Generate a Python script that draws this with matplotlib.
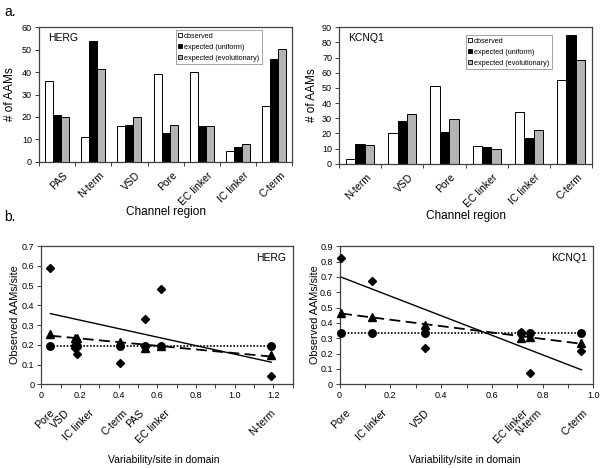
import matplotlib
matplotlib.use('Agg')
import matplotlib.pyplot as plt
import numpy as np
from matplotlib.patches import Patch
from matplotlib.transforms import blended_transform_factory, ScaledTranslation

plt.rcParams['font.family'] = ['Liberation Sans', 'DejaVu Sans']

# ---------------- data ----------------
herg_regions = ['PAS', 'N-term', 'VSD', 'Pore', 'EC linker', 'IC linker', 'C-term']
herg_observed = [36.0, 11.1, 15.9, 39.1, 40.0, 4.9, 24.9]
herg_uniform = [20.9, 54.0, 16.4, 12.7, 15.9, 6.8, 45.6]
herg_evol = [20.0, 41.4, 19.8, 16.5, 15.8, 8.1, 50.1]

kcnq1_regions = ['N-term', 'VSD', 'Pore', 'EC linker', 'IC linker', 'C-term']
kcnq1_observed = [3.1, 20.1, 51.0, 11.4, 34.1, 54.9]
kcnq1_uniform = [13.1, 28.4, 21.2, 10.9, 16.8, 84.5]
kcnq1_evol = [12.5, 32.8, 29.3, 9.6, 22.3, 68.3]

legend_labels = ['observed', 'expected (uniform)', 'expected (evolutionary)']

herg_domains = ['Pore', 'VSD', 'IC linker', 'C-term', 'PAS', 'EC linker', 'N-term']
herg_variability = [0.047, 0.175, 0.183, 0.404, 0.535, 0.620, 1.188]
herg_obs_site = [0.589, 0.186, 0.154, 0.110, 0.330, 0.484, 0.044]
herg_uni_site = [0.193, 0.193, 0.193, 0.193, 0.193, 0.193, 0.193]
herg_evo_site = [0.254, 0.236, 0.232, 0.215, 0.185, 0.192, 0.147]
herg_label_x = [0.079, 0.156, 0.284, 0.455, 0.54, 0.676, 1.222]

kcnq1_domains = ['Pore', 'IC linker', 'VSD', 'EC linker', 'N-term', 'C-term']
kcnq1_variability = [0.006, 0.127, 0.337, 0.716, 0.751, 0.953]
kcnq1_obs_site = [0.820, 0.676, 0.238, 0.340, 0.075, 0.219]
kcnq1_uni_site = [0.335, 0.335, 0.335, 0.335, 0.335, 0.335]
kcnq1_evo_site = [0.466, 0.438, 0.385, 0.300, 0.310, 0.272]
kcnq1_label_x = [0.049, 0.193, 0.364, 0.751, 0.803, 0.987]

# ---------------- figure ----------------
fig = plt.figure(figsize=(6, 4.68), dpi=100)
ax1 = fig.add_axes([0.065, 0.654, 0.422, 0.288])
ax2 = fig.add_axes([0.565, 0.650, 0.422, 0.292])
ax3 = fig.add_axes([0.069, 0.179, 0.419, 0.295])
ax4 = fig.add_axes([0.566, 0.179, 0.423, 0.295])

SPINE = '#404040'
GRAY = '#b4b4b4'
TICK_FS = 6.5


def style_spines(ax):
    for s in ax.spines.values():
        s.set_color(SPINE)
        s.set_linewidth(0.9)


def bar_panel(ax, regions, obs, uni, evo, ymax, ystep, title, leg_anchor):
    x = np.arange(len(regions))
    w = 0.222
    ax.bar(x - w, obs, w, color='white', edgecolor='black', linewidth=0.7)
    ax.bar(x, uni, w, color='black', edgecolor='black', linewidth=0.7)
    ax.bar(x + w, evo, w, color=GRAY, edgecolor='black', linewidth=0.7)
    ax.set_xlim(-0.5, len(regions) - 0.5)
    ax.set_ylim(0, ymax)
    ax.set_yticks(np.arange(0, ymax + 1, ystep))
    ax.set_xticks(np.arange(-0.5, len(regions), 1.0))
    ax.set_xticklabels([])
    ax.tick_params(axis='x', length=3, color=SPINE, width=0.7)
    ax.tick_params(axis='y', length=3, color=SPINE, width=0.7, labelsize=TICK_FS, pad=2)
    tr = blended_transform_factory(ax.transData, ax.transAxes) + \
        ScaledTranslation(13 / 100, 0, fig.dpi_scale_trans)
    for xi, name in zip(x, regions):
        ax.text(xi, -0.06, name, transform=tr, rotation=45, ha='right', va='top',
                fontsize=7.5)
    style_spines(ax)
    ax.text(0.035, 0.955, title, transform=ax.transAxes, ha='left', va='top', fontsize=7.5)
    handles = [Patch(facecolor='white', edgecolor='black', linewidth=0.6),
               Patch(facecolor='black', edgecolor='black', linewidth=0.6),
               Patch(facecolor=GRAY, edgecolor='black', linewidth=0.6)]
    leg = ax.legend(handles, legend_labels, loc='upper left', bbox_to_anchor=leg_anchor,
                    fontsize=5.2, handlelength=0.55, handleheight=0.55, handletextpad=0.25,
                    labelspacing=0.55, borderpad=0.35, borderaxespad=0, fancybox=False,
                    framealpha=1, edgecolor='#909090')
    leg.get_frame().set_linewidth(0.6)


bar_panel(ax1, herg_regions, herg_observed, herg_uniform, herg_evol, 60, 10, 'HERG', (0.54, 0.978))
bar_panel(ax2, kcnq1_regions, kcnq1_observed, kcnq1_uniform, kcnq1_evol, 90, 10, 'KCNQ1', (0.50, 0.94))


def fit_line(ax, x, y, **kw):
    p = np.polyfit(x, y, 1)
    xs = np.array([min(x), max(x)])
    ax.plot(xs, np.polyval(p, xs), color='black', **kw)


def scatter_panel(ax, domains, xv, obs, uni, evo, xmax, ymax, title, label_x):
    fit_line(ax, xv, obs, lw=1.0, ls='-')
    fit_line(ax, xv, evo, lw=1.3, ls=(0, (6, 3)))
    fit_line(ax, xv, uni, lw=1.2, ls=(0, (1, 1)))
    ax.plot(xv, obs, 'D', color='black', ms=4.0, clip_on=False, zorder=3)
    ax.plot(xv, uni, 'o', color='black', ms=5.4, clip_on=False, zorder=4)
    ax.plot(xv, evo, '^', color='black', ms=5.2, clip_on=False, zorder=5)
    ax.set_xlim(0, xmax)
    ax.set_ylim(0, ymax)
    ax.set_yticks(np.round(np.arange(0, ymax + 0.01, 0.1), 1))
    ax.set_yticklabels(['0'] + ['%.1f' % v for v in np.arange(0.1, ymax + 0.01, 0.1)])
    xt = np.round(np.arange(0, xmax + 0.001, 0.2), 1)
    ax.set_xticks(xt)
    ax.set_xticklabels(['0'] + ['%.1f' % v for v in xt[1:]])
    ax.set_xticks(np.round(np.arange(0, xmax + 0.001, 0.1), 1), minor=True)
    ax.tick_params(axis='both', which='both', length=3, color=SPINE, width=0.7,
                   labelsize=TICK_FS, pad=2)
    style_spines(ax)
    ax.text(0.975, 0.95, title, transform=ax.transAxes, ha='right', va='top', fontsize=7.5)
    tr = blended_transform_factory(ax.transData, ax.transAxes)
    for name, lx in zip(domains, label_x):
        ax.text(lx, -0.17, name, transform=tr, rotation=45, ha='right', va='top',
                fontsize=7.6)


scatter_panel(ax3, herg_domains, herg_variability, herg_obs_site, herg_uni_site,
              herg_evo_site, 1.3, 0.7, 'HERG', herg_label_x)
scatter_panel(ax4, kcnq1_domains, kcnq1_variability, kcnq1_obs_site, kcnq1_uni_site,
              kcnq1_evo_site, 1.0, 0.9, 'KCNQ1', kcnq1_label_x)

# axis titles and panel letters
fig.text(0.007, 0.974, 'a.', fontsize=10, va='center', ha='left')
fig.text(0.007, 0.536, 'b.', fontsize=10, va='center', ha='left')
fig.text(0.276, 0.547, 'Channel region', fontsize=8.5, ha='center', va='center')
fig.text(0.776, 0.538, 'Channel region', fontsize=8.5, ha='center', va='center')
fig.text(0.017, 0.798, '# of AAMs', fontsize=8.5, ha='center', va='center', rotation=90)
fig.text(0.520, 0.796, '# of AAMs', fontsize=8.5, ha='center', va='center', rotation=90)
fig.text(0.025, 0.327, 'Observed AAMs/site', fontsize=7.8, ha='center', va='center', rotation=90)
fig.text(0.525, 0.327, 'Observed AAMs/site', fontsize=7.8, ha='center', va='center', rotation=90)
fig.text(0.273, 0.017, 'Variability/site in domain', fontsize=7.5, ha='center', va='center')
fig.text(0.774, 0.017, 'Variability/site in domain', fontsize=7.5, ha='center', va='center')

fig.savefig('out.png', dpi=100)
